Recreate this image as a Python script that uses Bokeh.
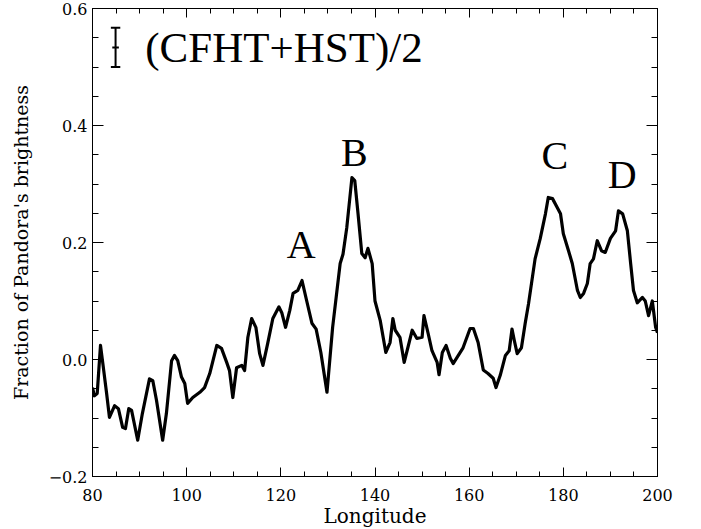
from bokeh.plotting import figure
from bokeh.models import LinearAxis, FixedTicker, CustomJSTickFormatter, Label, Range1d, ColumnDataSource
from bokeh.embed import file_html
from bokeh.resources import INLINE
from bokeh.core.properties import value

# ---- data ----
longitude = [80.0, 80.4, 81.0, 81.7, 82.2, 83.0, 83.6, 84.7, 85.5, 86.4, 87.0, 87.7, 88.3, 89.6,
             90.6, 92.1, 92.8, 93.6, 94.9, 95.7, 96.8, 97.4, 98.1, 98.9, 99.6, 100.2, 101.3,
             102.8, 103.8, 104.9, 106.4, 107.4, 108.5, 109.1, 109.8, 110.6, 111.7, 112.3, 113.0,
             113.8, 114.7, 115.5, 116.2, 117.2, 118.3, 119.6, 120.2, 121.0, 121.9, 122.6, 123.6,
             124.5, 125.5, 126.6, 127.5, 128.5, 129.8, 131.0, 132.6, 133.2, 134.0, 135.1, 135.7,
             136.4, 137.2, 137.9, 138.5, 139.4, 140.0, 141.1, 142.3, 143.2, 143.8, 144.3, 145.3,
             146.2, 147.9, 148.9, 150.0, 150.4, 151.3, 152.1, 153.2, 153.6, 154.3, 155.1, 156.0,
             156.6, 157.7, 158.7, 160.2, 160.9, 161.9, 163.0, 164.0, 165.1, 165.7, 166.6, 167.7,
             168.5, 169.1, 169.6, 170.2, 171.1, 171.9, 172.6, 174.0, 175.1, 176.2, 176.8, 177.7,
             178.7, 179.4, 180.0, 181.1, 181.9, 183.0, 183.6, 184.3, 185.1, 185.7, 186.4, 187.2,
             188.1, 188.9, 190.0, 191.1, 191.7, 192.6, 193.6, 194.3, 194.9, 195.7, 196.8, 197.4,
             198.1, 198.9, 199.6, 200.0]
brightness = [-0.048, -0.062, -0.058, 0.024, -0.007, -0.058, -0.099, -0.079, -0.084, -0.116,
              -0.118, -0.084, -0.087, -0.138, -0.092, -0.033, -0.036, -0.070, -0.138, -0.092,
              -0.002, 0.007, -0.002, -0.030, -0.041, -0.075, -0.065, -0.056, -0.048, -0.024,
              0.024, 0.019, -0.005, -0.019, -0.065, -0.014, -0.010, -0.019, 0.038, 0.070, 0.055,
              0.010, -0.010, 0.027, 0.070, 0.090, 0.080, 0.055, 0.084, 0.113, 0.118, 0.135,
              0.100, 0.062, 0.052, 0.012, -0.056, 0.055, 0.164, 0.180, 0.225, 0.311, 0.306,
              0.249, 0.181, 0.174, 0.190, 0.164, 0.100, 0.067, 0.012, 0.029, 0.070, 0.050,
              0.038, -0.005, 0.050, 0.036, 0.038, 0.075, 0.044, 0.015, -0.005, -0.026, 0.012,
              0.024, 0.002, -0.007, 0.007, 0.020, 0.053, 0.053, 0.029, -0.018, -0.024, -0.032,
              -0.048, -0.027, 0.007, 0.015, 0.052, 0.032, 0.010, 0.020, 0.062, 0.095, 0.172,
              0.207, 0.249, 0.277, 0.275, 0.260, 0.249, 0.215, 0.186, 0.164, 0.118, 0.106,
              0.113, 0.130, 0.164, 0.172, 0.203, 0.186, 0.183, 0.207, 0.220, 0.254, 0.249,
              0.220, 0.164, 0.118, 0.097, 0.106, 0.100, 0.075, 0.100, 0.055, 0.046]

peak_labels = ["A", "B", "C", "D"]
peak_x = [124.3, 135.6, 178.2, 192.5]
peak_y = [0.196, 0.353, 0.348, 0.316]

x_major_ticks = [80, 100, 120, 140, 160, 180, 200]
x_minor_ticks = [80, 85, 90, 95, 100, 105, 110, 115, 120, 125, 130, 135, 140, 145, 150, 155,
                 160, 165, 170, 175, 180, 185, 190, 195, 200]
y_major_ticks = [-0.2, 0.0, 0.2, 0.4, 0.6]
y_minor_ticks = [-0.2, -0.15, -0.1, -0.05, 0.0, 0.05, 0.1, 0.15, 0.2, 0.25, 0.3, 0.35, 0.4,
                 0.45, 0.5, 0.55, 0.6]

legend_text = "(CFHT+HST)/2"
legend_bar_x = 84.9
legend_bar_lo = 0.500
legend_bar_hi = 0.567
legend_text_x = 91.2
legend_text_y = 0.534

SERIF = "DejaVu Serif"
BIG = "Liberation Serif"

p = figure(frame_width=565, frame_height=468,
           x_range=Range1d(80, 200), y_range=Range1d(-0.2, 0.6),
           output_backend="svg", toolbar_location=None,
           x_axis_label="Longitude", y_axis_label="Fraction of Pandora's brightness",
           min_border_left=92, min_border_top=8, min_border_right=30, min_border_bottom=10,
           background_fill_color="white", border_fill_color="white")
p.grid.visible = False
p.outline_line_color = "black"
p.outline_line_width = 1

fmt = CustomJSTickFormatter(code="return tick.toFixed(1).replace('-', '\u2212');")
blank = CustomJSTickFormatter(code="return '';")


def style(ax, major_in, minor_in, labels=True):
    ax.axis_line_color = "black"
    ax.major_tick_line_color = "black"
    ax.minor_tick_line_color = "black"
    ax.major_tick_in = major_in
    ax.major_tick_out = 0
    ax.minor_tick_in = minor_in
    ax.minor_tick_out = 0
    ax.major_label_text_font = SERIF
    ax.major_label_text_font_size = "16px"
    ax.major_label_text_color = "black"
    ax.axis_label_text_font = SERIF
    ax.axis_label_text_font_size = "19px"
    ax.axis_label_text_font_style = "normal"
    ax.axis_label_text_color = "black"
    if not labels:
        ax.formatter = blank
        ax.major_label_standoff = 0
        ax.major_label_text_font_size = "0px"


xax = p.xaxis[0]
xax.ticker = FixedTicker(ticks=x_major_ticks, minor_ticks=x_minor_ticks)
style(xax, 9, 5)
xax.major_label_standoff = 12
xax.axis_label_standoff = 0
xax.axis_label_text_font_size = "20px"

yax = p.yaxis[0]
yax.ticker = FixedTicker(ticks=y_major_ticks, minor_ticks=y_minor_ticks)
yax.formatter = fmt
style(yax, 11, 6)
yax.major_label_standoff = 5
yax.axis_label_standoff = 14

top = LinearAxis(ticker=FixedTicker(ticks=x_major_ticks, minor_ticks=x_minor_ticks))
style(top, 9, 5, labels=False)
p.add_layout(top, "above")
right = LinearAxis(ticker=FixedTicker(ticks=y_major_ticks, minor_ticks=y_minor_ticks))
style(right, 11, 6, labels=False)
p.add_layout(right, "right")

p.line(longitude, brightness, line_color="black", line_width=3.2, line_join="round")

src = ColumnDataSource(dict(x=peak_x, y=peak_y, t=peak_labels))
p.text(x="x", y="y", text="t", source=src, text_font=value(BIG), text_font_size="40px",
       text_align="center", text_baseline="alphabetic", text_color="black")

# legend: error bar symbol and label
p.segment(x0=[legend_bar_x], y0=[legend_bar_lo], x1=[legend_bar_x], y1=[legend_bar_hi],
          line_color="black", line_width=2)
p.segment(x0=[legend_bar_x - 1.0, legend_bar_x - 1.0, legend_bar_x - 0.7],
          y0=[legend_bar_lo, legend_bar_hi, (legend_bar_lo + legend_bar_hi) / 2],
          x1=[legend_bar_x + 1.0, legend_bar_x + 1.0, legend_bar_x + 0.7],
          y1=[legend_bar_lo, legend_bar_hi, (legend_bar_lo + legend_bar_hi) / 2],
          line_color="black", line_width=2)
p.add_layout(Label(x=legend_text_x, y=legend_text_y, text=legend_text,
                   text_font=BIG, text_font_size="43px", text_baseline="alphabetic",
                   text_color="black"))

open("out.html", "w").write(file_html(p, INLINE))
